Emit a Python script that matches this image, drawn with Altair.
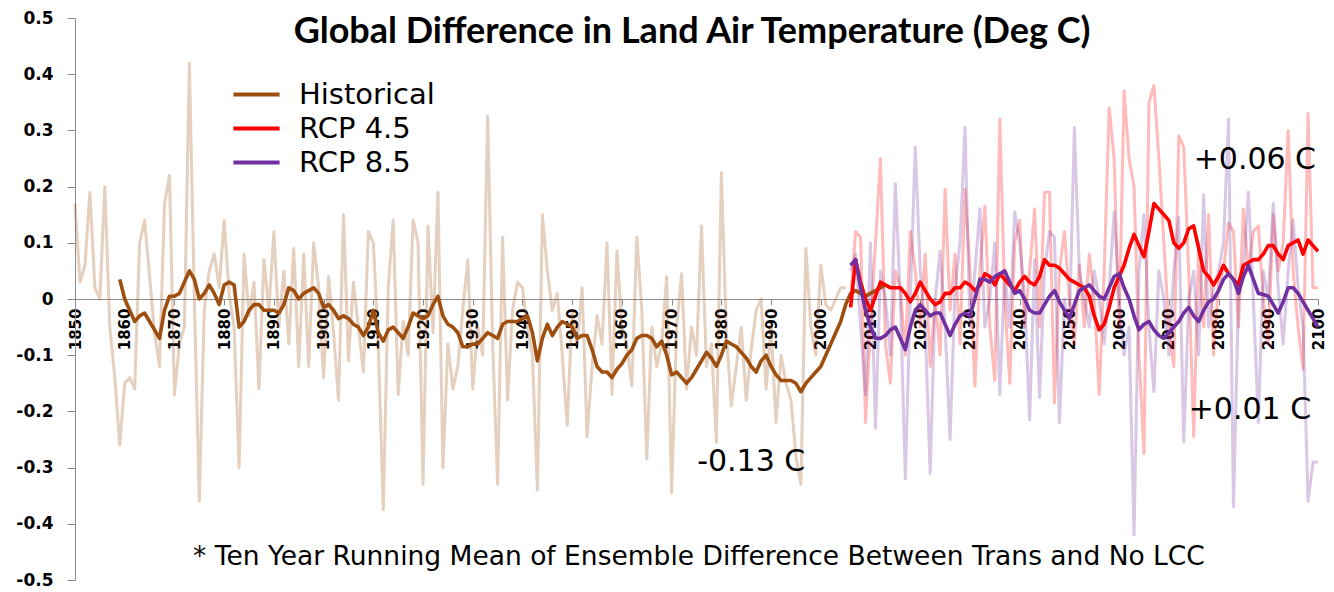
import altair as alt
import pandas as pd

# ---------------- data ----------------
hist_start = 1850
hist_annual = [
    0.17, 0.03, 0.06, 0.19, 0.02, 0.0, 0.20, -0.05, -0.14, -0.26,
    -0.15, -0.14, -0.16, 0.10, 0.14, 0.04, -0.06, -0.12, 0.17, 0.22,
    -0.17, -0.08, -0.05, 0.42, 0.0, -0.36, -0.02, 0.05, 0.08, 0.02,
    0.14, 0.01, -0.05, -0.30, 0.08, -0.03, 0.03, -0.16, 0.07, -0.02,
    0.12, -0.05, 0.05, -0.08, 0.09, -0.12, 0.08, -0.12, 0.10, 0.02,
    -0.14, 0.04, -0.06, -0.18, 0.15, -0.11, 0.03, -0.05, -0.13, 0.12,
    0.10, -0.08, -0.375, 0.02, 0.14, -0.17, -0.04, -0.10, 0.14, 0.10,
    -0.33, 0.13, -0.06, 0.19, -0.30, -0.08, -0.16, -0.12, -0.02, 0.07,
    -0.16, -0.05, -0.10, 0.325, -0.08, -0.33, 0.11, -0.18, -0.02, 0.03,
    0.02, -0.05, -0.10, -0.34, 0.15, 0.05, -0.02, 0.01, -0.10, -0.225,
    -0.02, -0.08, 0.02, -0.245, -0.12, -0.03, -0.08, 0.10, -0.17, 0.085,
    -0.05, -0.08, -0.155, 0.11, -0.02, -0.285, -0.05, -0.12, -0.08, 0.04,
    -0.345, -0.05, 0.045, -0.16, -0.05, -0.10, 0.13, -0.12, -0.08, -0.255,
    0.225, -0.06, -0.19, -0.12, -0.05, -0.18, -0.09, -0.02, 0.0, -0.16,
    -0.05, -0.22, -0.10, -0.15, -0.18, -0.28, -0.33, 0.09, -0.05, -0.10,
    0.06, -0.01, -0.02, 0.0, 0.02, 0.02,
]

hist_mean_start = 1859
hist_mean = [
    0.035,
    0.0, -0.02, -0.04, -0.03, -0.025, -0.04, -0.055, -0.07, -0.02, 0.005,
    0.005, 0.01, 0.03, 0.05, 0.035, 0.0, 0.01, 0.025, 0.01, -0.01,
    0.025, 0.03, 0.025, -0.05, -0.04, -0.02, -0.01, -0.01, -0.02, -0.02,
    -0.02, -0.025, -0.01, 0.02, 0.015, 0.0, 0.01, 0.015, 0.02, 0.01,
    -0.015, -0.01, -0.02, -0.035, -0.03, -0.035, -0.045, -0.05, -0.065, -0.05,
    -0.02, -0.06, -0.075, -0.055, -0.05, -0.06, -0.07, -0.05, -0.025, -0.03,
    -0.035, -0.03, -0.01, 0.005, -0.03, -0.045, -0.05, -0.06, -0.085, -0.085,
    -0.08, -0.08, -0.07, -0.06, -0.065, -0.07, -0.045, -0.04, -0.04, -0.04,
    -0.035, -0.03, -0.06, -0.11, -0.07, -0.045, -0.065, -0.05, -0.04, -0.045,
    -0.05, -0.07, -0.065, -0.065, -0.09, -0.12, -0.13, -0.13, -0.14, -0.125,
    -0.115, -0.10, -0.09, -0.07, -0.065, -0.065, -0.07, -0.085, -0.075, -0.10,
    -0.135, -0.13, -0.14, -0.15, -0.14, -0.125, -0.11, -0.095, -0.105, -0.12,
    -0.10, -0.075, -0.08, -0.085, -0.095, -0.105, -0.12, -0.13, -0.11, -0.10,
    -0.12, -0.135, -0.145, -0.145, -0.145, -0.15, -0.165, -0.15, -0.14, -0.13,
    -0.12, -0.10, -0.08, -0.06, -0.04, -0.01,
    0.01, 0.015, 0.01, 0.005, 0.01, 0.015, 0.02, 0.025, 0.02,
]

rcp_start = 2006
rcp45_annual = [
    0.0, 0.12, 0.11, -0.22, -0.05, 0.10, 0.25, -0.08, -0.15, 0.05,
    0.02, -0.10, 0.12, 0.05, -0.05, 0.08, -0.12, 0.0, -0.10, 0.195,
    -0.02, 0.08, -0.08, 0.195, 0.05, -0.155, 0.05, 0.165, -0.05, -0.145,
    0.32, 0.0, -0.15, 0.10, 0.14, -0.05, 0.05, 0.16, -0.05, 0.19,
    0.19, -0.185, 0.05, 0.12, 0.0, -0.08, 0.06, -0.05, 0.08, 0.0,
    -0.17, 0.05, 0.34, 0.25, -0.05, 0.37, 0.25, 0.20, -0.10, -0.275,
    0.35, 0.38, 0.25, 0.10, -0.05, -0.12, 0.29, 0.27, 0.05, -0.245,
    0.10, -0.05, 0.15, -0.10, 0.03, 0.05, 0.135, 0.12, -0.05, 0.16,
    0.05, 0.12, 0.13, 0.0, -0.08, 0.15, 0.05, 0.10, 0.30, 0.05,
    -0.05, -0.125, 0.33, 0.02, 0.02,
]
rcp45_mean = [
    -0.015, 0.07, 0.03, 0.0, -0.02, 0.005, 0.03, 0.025, 0.02, 0.02,
    0.02, 0.01, -0.005, 0.01, 0.03, 0.015, 0.0, -0.01, -0.005, 0.01,
    0.01, 0.02, 0.02, 0.03, 0.025, 0.015, 0.025, 0.045, 0.04, 0.025,
    0.045, 0.035, 0.025, 0.015, 0.03, 0.04, 0.03, 0.025, 0.04, 0.07,
    0.06, 0.06, 0.055, 0.045, 0.035, 0.03, 0.025, 0.02, 0.005, -0.03,
    -0.055, -0.045, -0.015, 0.02, 0.04, 0.06, 0.09, 0.115, 0.095, 0.075,
    0.12, 0.17, 0.16, 0.15, 0.14, 0.10, 0.09, 0.10, 0.125, 0.13,
    0.09, 0.05, 0.04, 0.025, 0.04, 0.06, 0.045, 0.035, 0.025, 0.06,
    0.065, 0.07, 0.07, 0.08, 0.095, 0.095, 0.08, 0.07, 0.095, 0.10,
    0.105, 0.08, 0.105, 0.095, 0.085,
]
rcp85_annual = [
    0.05, 0.08, -0.05, -0.17, 0.10, -0.23, 0.05, 0.0, -0.10, 0.205,
    0.0, -0.32, 0.0, 0.27, 0.05, -0.05, -0.31, 0.0, 0.085, -0.05,
    -0.25, 0.02, 0.10, 0.305, -0.05, 0.05, 0.16, -0.05, 0.0, 0.10,
    -0.17, 0.05, -0.05, 0.155, 0.10, 0.0, -0.215, 0.07, -0.175, 0.05,
    0.12, 0.11, -0.22, 0.0, -0.05, 0.305, 0.05, 0.0, -0.05, 0.05,
    0.0, -0.08, 0.02, 0.155, 0.0, -0.10, -0.05, -0.42, 0.05, 0.15,
    -0.05, -0.165, 0.05, 0.0, -0.10, 0.05, 0.145, -0.255, 0.0, 0.05,
    -0.10, 0.185, -0.05, 0.02, 0.05, 0.10, 0.32, -0.37, 0.0, 0.05,
    0.19, 0.0, -0.22, 0.05, 0.0, 0.17, 0.02, -0.08, 0.05, 0.14,
    0.02, -0.05, -0.36, -0.29, -0.29,
]
rcp85_mean = [
    0.06, 0.07, 0.02, -0.02, -0.05, -0.07, -0.07, -0.065, -0.055, -0.05,
    -0.07, -0.09, -0.05, -0.02, -0.01, -0.02, -0.03, -0.025, -0.025, -0.045,
    -0.065, -0.045, -0.03, -0.025, -0.03, 0.0, 0.035, 0.035, 0.03, 0.04,
    0.045, 0.05, 0.03, 0.01, 0.015, 0.0, -0.02, -0.025, -0.025, -0.01,
    0.005, 0.015, -0.005, -0.02, -0.035, -0.01, 0.015, 0.02, 0.025, 0.015,
    0.005, 0.0, 0.02, 0.04, 0.045, 0.02, 0.0, -0.03, -0.055, -0.045,
    -0.04, -0.055, -0.065, -0.07, -0.06, -0.05, -0.04, -0.025, -0.015, -0.03,
    -0.04, -0.02, -0.005, 0.0, 0.015, 0.035, 0.045, 0.035, 0.01, 0.04,
    0.06, 0.035, 0.01, 0.008, 0.005, -0.01, -0.025, -0.005, 0.02, 0.02,
    0.01, -0.005, -0.02, -0.035, -0.05,
]

series_names = ["Historical", "RCP 4.5", "RCP 8.5"]
series_colors = ["#9E4F0F", "#FF0000", "#7030A0"]

ann_text = ["-0.13 C", "+0.06 C", "+0.01 C"]
ann_year = [1986.0, 2087.3, 2086.3]
ann_value = [-0.29, 0.247, -0.197]

note_text = ["* Ten Year Running Mean of Ensemble Difference Between Trans and No LCC"]
note_year = [1975.5]
note_value = [-0.459]

title_text = ["Global Difference in Land Air Temperature (Deg C)"]
title_year = [1974.1]
title_value = [0.475]


# ---------------- tables ----------------
def frame(start, values, series):
    return pd.DataFrame({
        "year": list(range(start, start + len(values))),
        "value": values,
        "series": series,
    })


annual = pd.concat([
    frame(hist_start, hist_annual, "Historical"),
    frame(rcp_start, rcp45_annual, "RCP 4.5"),
    frame(rcp_start, rcp85_annual, "RCP 8.5"),
], ignore_index=True)

means = pd.concat([
    frame(hist_mean_start, hist_mean, "Historical"),
    frame(rcp_start, rcp45_mean, "RCP 4.5"),
    frame(rcp_start, rcp85_mean, "RCP 8.5"),
], ignore_index=True)

ann = pd.DataFrame({"year": ann_year, "value": ann_value, "label": ann_text})
note = pd.DataFrame({"year": note_year, "value": note_value, "label": note_text})
ttl = pd.DataFrame({"year": title_year, "value": title_value, "label": title_text})

# ---------------- encodings ----------------
FONT = "DejaVu Sans"
GREY = "#8c8c8c"

x_enc = alt.X(
    "year:Q",
    scale=alt.Scale(domain=[1850, 2100], nice=False, zero=False),
    axis=alt.Axis(
        values=list(range(1850, 2101, 5)),
        format="d",
        labelExpr="datum.value % 10 == 0 ? datum.label : ''",
        labelAngle=270,
        offset=-281,
        title=None,
        grid=False,
        domainColor=GREY,
        tickColor=GREY,
        tickSize=6,
        labelFont=FONT,
        labelFontWeight="bold",
        labelFontSize=15,
        labelColor="#000000",
        labelPadding=3,
        labelOverlap=False,
        labelFlush=False,
        labelBound=False,
    ),
)

y_vals = [round(v / 10, 1) for v in range(-5, 6)]
y_enc = alt.Y(
    "value:Q",
    scale=alt.Scale(domain=[-0.5, 0.5], nice=False, zero=False),
    axis=alt.Axis(
        values=y_vals,
        labelExpr="abs(datum.value) < 0.001 ? '0' : (datum.value < 0 ? '-' + format(-datum.value, '.1f') : format(datum.value, '.1f'))",
        title=None,
        grid=False,
        domainColor=GREY,
        tickColor=GREY,
        tickSize=8,
        labelFont=FONT,
        labelFontWeight="bold",
        labelFontSize=17,
        labelColor="#000000",
        labelPadding=14,
    ),
)

color_scale = alt.Scale(domain=series_names, range=series_colors)

annual_layer = alt.Chart(annual).mark_line(
    strokeWidth=3, opacity=0.27, strokeJoin="round"
).encode(
    x=x_enc,
    y=y_enc,
    color=alt.Color("series:N", scale=color_scale, legend=None),
)

mean_layer = alt.Chart(means).mark_line(
    strokeWidth=3.6, strokeJoin="round"
).encode(
    x="year:Q",
    y="value:Q",
    color=alt.Color(
        "series:N",
        scale=color_scale,
        legend=alt.Legend(
            title=None,
            orient="none",
            legendX=163,
            legendY=58,
            padding=0,
            rowPadding=0,
            symbolType="M-1.4,0H1.4",
            symbolSize=1089,
            symbolStrokeWidth=4,
            labelFont=FONT,
            labelFontSize=29,
            labelColor="#000000",
            labelOffset=24,
        ),
    ),
)

ann_layer = alt.Chart(ann).mark_text(
    font=FONT, fontSize=30, color="#000000"
).encode(x="year:Q", y="value:Q", text="label:N")

note_layer = alt.Chart(note).mark_text(
    font=FONT, fontSize=26.5, color="#000000"
).encode(x="year:Q", y="value:Q", text="label:N")

title_layer = alt.Chart(ttl).mark_text(
    font="Lato", fontSize=36, fontWeight="bold", color="#000000"
).encode(x="year:Q", y="value:Q", text="label:N")

chart = alt.layer(
    annual_layer, mean_layer, ann_layer, note_layer, title_layer
).resolve_scale(
    color="independent"
).properties(
    width=1243,
    height=562,
    padding={"left": 67, "top": 10, "right": 8, "bottom": 10},
    autosize=alt.AutoSizeParams(type="none"),
).configure_view(stroke=None)

chart.save("out.html", embed_options={"renderer": "svg", "actions": False})
